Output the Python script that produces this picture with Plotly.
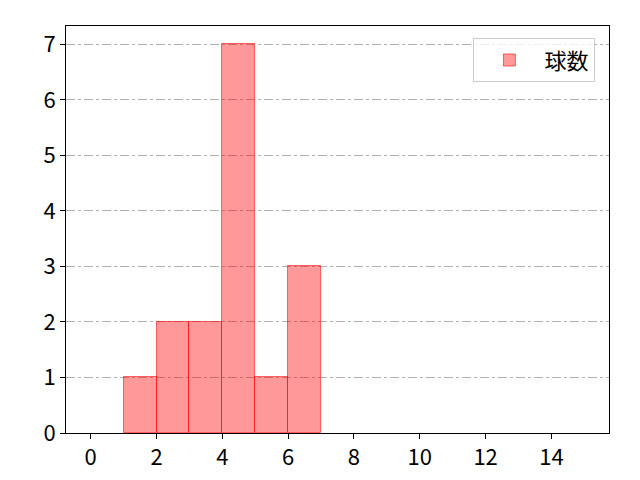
import plotly.graph_objects as go

bin_left = [1, 2, 3, 4, 5, 6]
counts = [1, 2, 2, 7, 1, 3]
x_ticks = [0, 2, 4, 6, 8, 10, 12, 14]
y_ticks = [0, 1, 2, 3, 4, 5, 6, 7]

fig = go.Figure()
fig.add_trace(go.Bar(
    x=[b + 0.5 for b in bin_left], y=counts, width=1,
    name="球数",
    marker=dict(color="rgba(255,0,0,0.4)", line=dict(color="rgba(255,0,0,0.55)", width=1)),
))

axis_common = dict(
    showline=True, linecolor="black", linewidth=1, mirror=True,
    ticks="outside", ticklen=5, tickcolor="black",
    zeroline=False, layer="above traces", automargin=False,
    tickfont=dict(size=22, color="black"),
)
fig.update_xaxes(range=[-0.75, 15.75], tickvals=x_ticks, showgrid=False, **axis_common)
fig.update_yaxes(range=[0, 7.33], tickvals=y_ticks, showgrid=True, gridcolor="#b0b0b0",
                 griddash="dashdot", gridwidth=1, **axis_common)

# page shows the figure offset by ~7px, margins compensate
fig.update_layout(
    width=640, height=480,
    margin=dict(l=58, r=39, t=18, b=55),
    plot_bgcolor="white", paper_bgcolor="white",
    font=dict(family="Noto Sans CJK JP", color="black"),
    bargap=0,
    showlegend=True,
    legend=dict(x=0.975, y=0.97, xanchor="right", yanchor="top",
                bordercolor="#cccccc", borderwidth=1, bgcolor="rgba(255,255,255,0.8)",
                itemwidth=60, font=dict(size=22)),
)

fig.write_html("out.html")
